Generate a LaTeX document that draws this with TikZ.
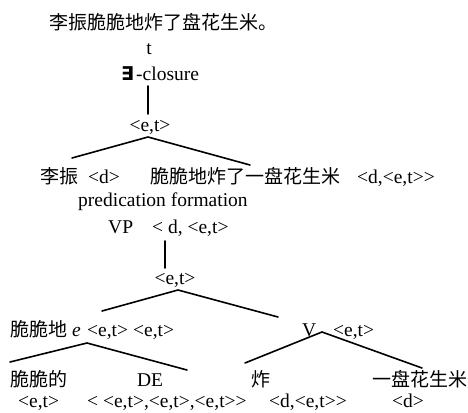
\documentclass[tikz,border=0pt]{standalone}
\usepackage{fontspec}
\setmainfont{Liberation Serif}[Ligatures=TeXOff]
\newfontfamily\cjk{Noto Sans CJK SC}
\newfontfamily\symfont{DejaVu Sans}
\begin{document}
\begin{tikzpicture}[x=1pt,y=-1pt,
  txt/.style={inner sep=0pt,anchor=base west,font=\fontsize{19.5}{23}\selectfont},
  ctxt/.style={txt,anchor=base},
  zh/.style={txt,font=\fontsize{19}{23}\selectfont\cjk},
  branch/.style={line width=1.6pt,line cap=round}]
\useasboundingbox (0,0) rectangle (468,412);
% texts
\node[zh] (title) at (49,30) {李振脆脆地炸了盘花生米。};
\node[ctxt] (t) at (149,55) {t};
\node[txt,font=\fontsize{19}{22}\selectfont\symfont\bfseries] (ex) at (121,81) {∃};
\node[txt] (closure) at (136,81) {-closure};
\node[ctxt] (et1) at (150,131) {<e,t>};
\node[zh] (lz) at (40,183) {李振};
\node[txt] (d1) at (88,183) {<d>};
\node[zh] (vp) at (150,183) {脆脆地炸了一盘花生米};
\node[txt] (dett) at (357,183) {<d,<e,t>>};
\node[txt] (pf) at (78,206) {predication formation};
\node[txt] (VP) at (108,233) {VP};
\node[txt] (dett2) at (152,233) {< d, <e,t>};
\node[ctxt] (et2) at (175,284) {<e,t>};
\node[zh] (ccd) at (10,336) {脆脆地};
\node[txt] (e) at (72,336) {\itshape e};
\node[txt] (et3) at (87,336) {<e,t>};
\node[txt] (et4) at (133,336) {<e,t>};
\node[txt] (V) at (302,336) {V};
\node[txt] (et5) at (333,336) {<e,t>};
\node[zh] (ccde) at (10,386) {脆脆的};
\node[ctxt] (DE) at (150,386) {DE};
\node[zh] (zha) at (251,386) {炸};
\node[zh] (ypfs) at (372,386) {一盘花生米};
\node[txt] (b1) at (18,407) {<e,t>};
\node[txt] (b2) at (87,407) {< <e,t>,<e,t>,<e,t>>};
\node[txt] (b3) at (269,407) {<d,<e,t>>};
\node[txt] (b4) at (392,407) {<d>};
% branch points
\coordinate (v1a) at (148,86);  \coordinate (v1b) at (148,114);
\coordinate (a1) at (148,137); \coordinate (l1) at (72,158); \coordinate (r1) at (250,165);
\coordinate (v2a) at (165,241); \coordinate (v2b) at (165,268);
\coordinate (a2) at (178,290); \coordinate (l2) at (102,311); \coordinate (r2) at (278,317);
\coordinate (a3) at (87,343); \coordinate (l3) at (10,362); \coordinate (r3) at (187,370);
\coordinate (a4) at (322,332); \coordinate (l4) at (245,363); \coordinate (r4) at (422,368);
% branches
\draw[branch] (v1a) -- (v1b);
\draw[branch] (l1) -- (a1) -- (r1);
\draw[branch] (v2a) -- (v2b);
\draw[branch] (l2) -- (a2) -- (r2);
\draw[branch] (l3) -- (a3) -- (r3);
\draw[branch] (l4) -- (a4) -- (r4);
\end{tikzpicture}
\end{document}
